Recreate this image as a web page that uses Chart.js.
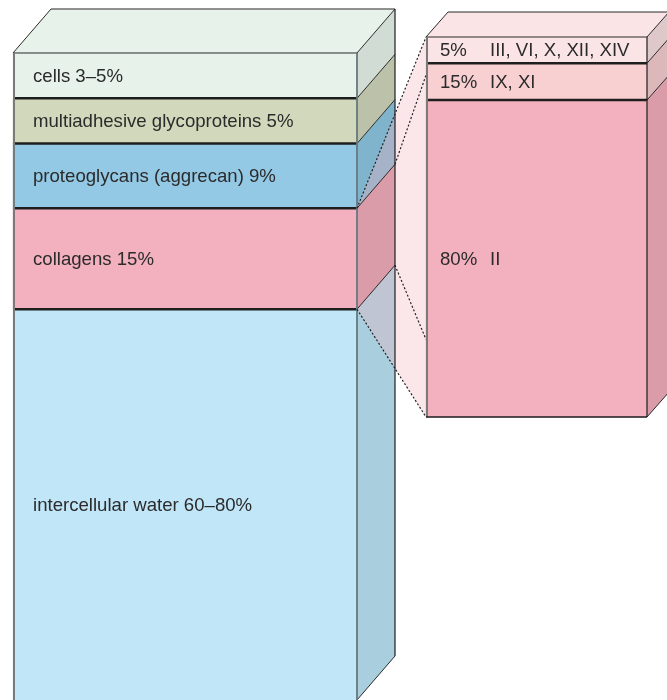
<!DOCTYPE html>
<html>
<head>
<meta charset="utf-8">
<script src="https://cdn.jsdelivr.net/npm/chart.js@4"></script>
<style>
  html, body { margin: 0; padding: 0; background: #ffffff; }
  #wrap { width: 667px; height: 700px; position: relative; }
</style>
</head>
<body>
<div id="wrap"><canvas id="c" width="667" height="700"></canvas></div>
<script>
// ---------- data ----------
const categories = ['Cartilage matrix', 'Collagen types'];

// left bar, bottom to top (share of the drawn bar height)
const matrixLabels = ['intercellular water 60–80%', 'collagens 15%', 'proteoglycans (aggrecan) 9%', 'multiadhesive glycoproteins 5%', 'cells 3–5%'];
const matrixValues = [60.4, 15.6, 10, 7, 7];

// right bar, bottom to top
const collagenPct = ['80%', '15%', '5%'];
const collagenTypes = ['II', 'IX, XI', 'III, VI, X, XII, XIV'];
const collagenValues = [83.4, 9.7, 6.9];

// ---------- styles ----------
const matrixFront = ['#c1e6f8', '#f3b0be', '#93c9e5', '#d2d8bb', '#e7f2ea'];
const matrixSide  = ['#a9cfde', '#d99ca8', '#80b3cc', '#bbc2a9', '#d1dcd4'];
const collFront   = ['#f3b0be', '#f8d0d1', '#fbe4e6'];
const collSide    = ['#d99ca8', '#dcb8ba', '#dfc8ca'];
const DEPTH_L = { dx: 38, dy: -44 };
const DEPTH_R = { dx: 22, dy: -25 };
const FONT = '18.6px "Liberation Sans", Arial, sans-serif';

const datasets = [];
matrixValues.forEach((v, i) => {
  datasets.push({
    label: matrixLabels[i], data: [v, null], yAxisID: 'y',
    backgroundColor: matrixFront[i], borderWidth: 0, barThickness: 344, clip: false
  });
});
collagenValues.forEach((v, i) => {
  datasets.push({
    label: collagenPct[i] + ' ' + collagenTypes[i], data: [null, v], yAxisID: 'y2',
    backgroundColor: collFront[i], borderWidth: 0, barThickness: 221, clip: false
  });
});

function rectOf(el) {
  const w = el.width;
  return { L: el.x - w / 2, R: el.x + w / 2, T: Math.min(el.y, el.base), B: Math.max(el.y, el.base) };
}
function poly(ctx, pts, fill) {
  ctx.beginPath();
  ctx.moveTo(pts[0][0], pts[0][1]);
  for (let i = 1; i < pts.length; i++) ctx.lineTo(pts[i][0], pts[i][1]);
  ctx.closePath();
  ctx.fillStyle = fill;
  ctx.fill();
}
function line(ctx, x1, y1, x2, y2, color, w, dash) {
  ctx.save();
  ctx.beginPath();
  ctx.setLineDash(dash || []);
  ctx.moveTo(x1, y1); ctx.lineTo(x2, y2);
  ctx.strokeStyle = color; ctx.lineWidth = w;
  ctx.stroke();
  ctx.restore();
}
function sideFace(ctx, r, d, color) {
  poly(ctx, [[r.R, r.T], [r.R + d.dx, r.T + d.dy], [r.R + d.dx, r.B + d.dy], [r.R, r.B]], color);
}
function topFace(ctx, r, d, color) {
  poly(ctx, [[r.L, r.T], [r.R, r.T], [r.R + d.dx, r.T + d.dy], [r.L + d.dx, r.T + d.dy]], color);
}
function edges(ctx, segs, d, opts) {
  const top = segs[segs.length - 1], bot = segs[0];
  const T = top.T, B = bot.B, L = bot.L, R = bot.R;
  segs.forEach(s => line(ctx, s.R, s.B, s.R + d.dx, s.B + d.dy, '#2a2a2a', 1));
  line(ctx, R, T, R + d.dx, T + d.dy, '#2a2a2a', 1);
  line(ctx, L, T, L + d.dx, T + d.dy, '#2a2a2a', 1);
  line(ctx, L + d.dx, T + d.dy, R + d.dx, T + d.dy, '#2a2a2a', 1);
  line(ctx, R + d.dx, T + d.dy, R + d.dx, B + d.dy, '#1e1e1e', 1.2);
  for (let i = 0; i < segs.length - 1; i++) line(ctx, L, segs[i].T, R, segs[i].T, '#1e1e1e', 2.5);
  line(ctx, L, T, R, T, '#2a2a2a', 1);
  line(ctx, L + 1, T, L + 1, B, '#7a7a7a', 2);
  line(ctx, R, T, R, B, opts.rightEdge, opts.rightW);
  if (opts.bottom) line(ctx, L, B, R, B, '#1e1e1e', 1.5);
}

const box3d = {
  id: 'box3d',
  afterDatasetsDraw(chart) {
    const ctx = chart.ctx;
    const nL = matrixValues.length;
    const left = [], right = [];
    for (let i = 0; i < nL; i++) left.push(rectOf(chart.getDatasetMeta(i).data[0]));
    for (let i = 0; i < collagenValues.length; i++) right.push(rectOf(chart.getDatasetMeta(nL + i).data[1]));
    const dl = DEPTH_L, dr = DEPTH_R;

    left.forEach((r, i) => sideFace(ctx, r, dl, matrixSide[i]));
    topFace(ctx, left[nL - 1], dl, matrixFront[nL - 1]);

    const c = left[1];
    const rt = right[right.length - 1].T, rb = right[0].B, rl = right[0].L;
    poly(ctx, [[c.R, c.T], [rl, rt], [rl, rb], [c.R, c.B]], 'rgba(243,176,190,0.32)');
    sideFace(ctx, c, dl, matrixSide[1]);

    edges(ctx, left, dl, { rightEdge: '#66787f', rightW: 1.8, bottom: false });

    const dash = [2, 2];
    const dc = '#222';
    line(ctx, c.R, c.T, rl, rt, dc, 1.2, dash);
    line(ctx, c.R, c.B, rl, rb, dc, 1.2, dash);
    function clipTo(x1, y1, x2, y2) {
      const t = (rl - x1) / (x2 - x1);
      return [rl, y1 + (y2 - y1) * t];
    }
    let p = clipTo(c.R + dl.dx, c.T + dl.dy, rl + dr.dx, rt + dr.dy);
    line(ctx, c.R + dl.dx, c.T + dl.dy, p[0], p[1], dc, 1.2, dash);
    p = clipTo(c.R + dl.dx, c.B + dl.dy, rl + dr.dx, rb + dr.dy);
    line(ctx, c.R + dl.dx, c.B + dl.dy, p[0], p[1], dc, 1.2, dash);

    right.forEach((r, i) => sideFace(ctx, r, dr, collSide[i]));
    topFace(ctx, right[right.length - 1], dr, collFront[right.length - 1]);
    edges(ctx, right, dr, { rightEdge: '#1e1e1e', rightW: 1.2, bottom: true });

    ctx.save();
    ctx.font = FONT;
    ctx.fillStyle = '#2b2b2b';
    ctx.textBaseline = 'middle';
    ctx.textAlign = 'left';
    left.forEach((r, i) => ctx.fillText(matrixLabels[i], r.L + 20, (r.T + r.B) / 2 + 1));
    right.forEach((r, i) => {
      const y = (r.T + r.B) / 2 + 1;
      ctx.fillText(collagenPct[i], r.L + 14, y);
      ctx.fillText(collagenTypes[i], r.L + 64, y);
    });
    ctx.restore();
  }
};

new Chart(document.getElementById('c'), {
  type: 'bar',
  data: { labels: categories, datasets: datasets },
  options: {
    responsive: false,
    animation: false,
    devicePixelRatio: 1,
    layout: { padding: { left: 185, right: 130.5, top: 0, bottom: 0 } },
    plugins: { legend: { display: false }, tooltip: { enabled: false } },
    scales: {
      x: { type: 'category', display: false, stacked: true, offset: false, grid: { display: false } },
      y: { display: false, stacked: true, min: 0, max: 108.19 },
      y2: { display: false, stacked: true, min: -74.47, max: 109.74 }
    }
  },
  plugins: [box3d]
});
</script>
</body>
</html>
